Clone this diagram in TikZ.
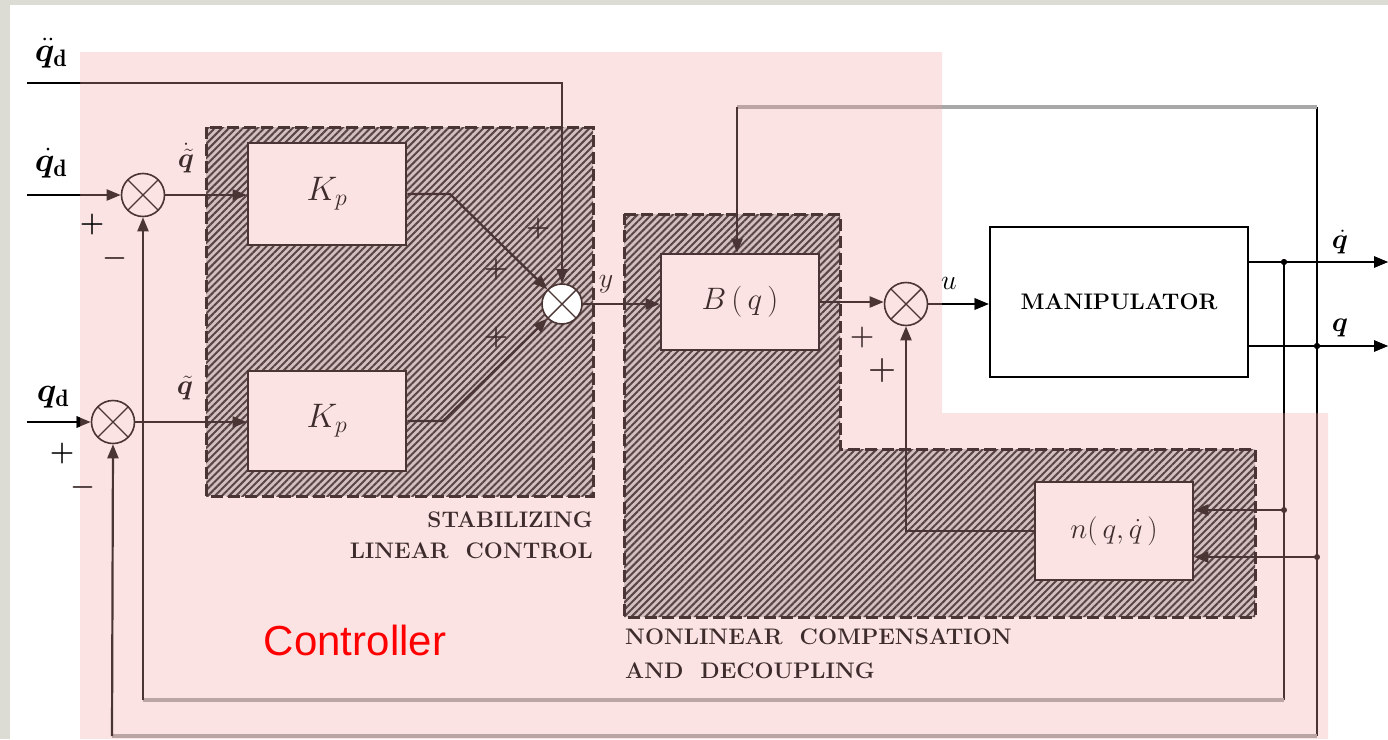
\RequirePackage{fix-cm}
\documentclass[tikz,border=0pt]{standalone}
\usepackage{fontspec}
\newfontfamily\arialfont{Liberation Sans}
\usepackage{bm}
\usetikzlibrary{arrows.meta,patterns.meta}
\definecolor{pinkbg}{HTML}{FBE3E3}
\definecolor{stone}{HTML}{DCDCD4}
\definecolor{hatchbg}{HTML}{D2C0C0}
\definecolor{hatchink}{HTML}{5A4444}
\definecolor{brownink}{HTML}{4A3434}
\definecolor{browntext}{HTML}{3E2C2C}
\definecolor{brownfade}{HTML}{BBA4A4}
\definecolor{greyfade}{HTML}{A8A8A8}
\colorlet{ink}{brownink}
\colorlet{inkfade}{brownfade}
\tikzset{
  ln/.style={draw=ink, line width=2.2pt},
  arr/.style={ln, -{Triangle[length=14pt,width=11pt]}},
  fadeln/.style={draw=inkfade, line width=4pt},
  blockbox/.style={draw=ink, line width=2.6pt, fill=pinkbg, minimum width=158pt, minimum height=100pt, inner sep=0pt},
  sumj/.style={circle, draw=ink, line width=1.6pt, fill=pinkbg, minimum size=43pt, inner sep=0pt,
    path picture={\draw[ink, line width=1.4pt] (path picture bounding box.north west) -- (path picture bounding box.south east)
      (path picture bounding box.north east) -- (path picture bounding box.south west);}},
  hatcharea/.style={fill=hatchbg, postaction={pattern={Lines[angle=45,distance=5pt,line width=2pt]}, pattern color=hatchink}},
  dashedborder/.style={draw=ink, line width=3pt, dash pattern=on 12pt off 5pt},
  lbl/.style={text=browntext, inner sep=0pt, font=\fontsize{28}{32}\selectfont},
  inlbl/.style={text=black, inner sep=0pt, font=\fontsize{34}{38}\selectfont},
  sgn/.style={text=browntext, inner sep=0pt, font=\fontsize{28}{30}\selectfont},
  capslbl/.style={text=browntext, inner sep=0pt, font=\fontsize{22.5}{26}\selectfont\bfseries},
  jdot/.style={circle, fill=ink, inner sep=0pt, minimum size=6pt},
}
\newcommand{\diagramcontent}{%
  % named bend points
  \coordinate (qddIn) at (27,83);
  \coordinate (qddBend) at (562,83);
  \coordinate (qdIn) at (27,195);
  \coordinate (qIn) at (27,422);
  \coordinate (k1Bend) at (450,194);
  \coordinate (k2Bend) at (443,421);
  \coordinate (qdOutEnd) at (1388,262);
  \coordinate (qOutEnd) at (1388,346);
  \coordinate (jqd) at (1284,262);
  \coordinate (jq) at (1317,346);
  \coordinate (qTop) at (1317,107);
  \coordinate (bqTop) at (737,107);
  \coordinate (jqdN) at (1284,510);
  \coordinate (jqN) at (1317,557);
  \coordinate (qdLow) at (1284,700);
  \coordinate (qdLeft) at (143,700);
  \coordinate (qLow) at (1317,736);
  \coordinate (qLeft) at (112,736);
  % blocks
  \node[sumj] (s1) at (143,195) {};
  \node[sumj] (s2) at (113,422) {};
  \node[sumj, fill=white, minimum size=40pt] (s3) at (562,304) {};
  \node[sumj] (s4) at (906,304) {};
  \node[blockbox, minimum height=102pt] (kp1) at (327,194) {};
  \node[blockbox] (kp2) at (327,421) {};
  \node[blockbox, minimum height=96pt] (bq) at (740,302) {};
  \node[blockbox, minimum height=98pt] (nb) at (1114,531) {};
  \node[blockbox, fill=white, minimum width=258pt, minimum height=150pt] (man) at (1119,302) {};
  % connectors
  \draw[arr] (qddIn) -- (qddBend) -- (s3.north);
  \draw[arr] (qdIn) -- (s1.west);
  \draw[arr] (qIn) -- (s2.west);
  \draw[arr] (s1.east) -- (s1.east -| kp1.west);
  \draw[arr] (s2.east) -- (s2.east -| kp2.west);
  \draw[arr] (kp1.east) -- (k1Bend) -- (s3.north west);
  \draw[arr] (kp2.east) -- (k2Bend) -- (s3.south west);
  \draw[arr] (s3.east) -- (s3.east -| bq.west);
  \draw[arr] (bq.east) -- (bq.east -| s4.west);
  \draw[arr] (s4.east) -- (s4.east -| man.west);
  \draw[arr] (man.east |- qdOutEnd) -- (qdOutEnd);
  \draw[arr] (man.east |- qOutEnd) -- (qOutEnd);
  \draw[ln] (jq) -- (qTop);
  \draw[fadeln] (qTop) -- (bqTop);
  \draw[arr] (bqTop) -- (bqTop |- bq.north);
  \draw[ln] (jq) -- (qLow);
  \draw[fadeln] (qLow) -- (qLeft);
  \draw[arr] (qLeft) -- (s2.south);
  \draw[ln] (jqd) -- (qdLow);
  \draw[fadeln] (qdLow) -- (qdLeft);
  \draw[arr] (qdLeft) -- (s1.south);
  \draw[arr] (jqdN) -- (jqdN -| nb.east);
  \draw[arr] (jqN) -- (jqN -| nb.east);
  \draw[arr] (nb.west) -- (nb.west -| s4.south) -- (s4.south);
  \node[jdot] (d1) at (jqd) {};
  \node[jdot] (d2) at (jq) {};
  \node[jdot] (d3) at (jqdN) {};
  \node[jdot] (d4) at (jqN) {};
}
\begin{document}
\begin{tikzpicture}[x=1pt,y=-1pt]
  \useasboundingbox (0,0) rectangle (1388,739);
  % background
  \fill[white] (0,0) rectangle (1388,739);
  \fill[stone] (0,0) rectangle (10,739);
  \fill[stone] (0,0) rectangle (1388,5);
  \fill[pinkbg] (80,52) -- (942,52) -- (942,413) -- (1328,413) -- (1328,739) -- (80,739) -- cycle;
  % hatched regions
  \path[hatcharea] (206,127) rectangle (593,496);
  \draw[dashedborder] (206,127) rectangle (593,496);
  \path[hatcharea] (624,214) -- (840,214) -- (840,449) -- (1255,449) -- (1255,617) -- (624,617) -- cycle;
  \draw[dashedborder] (624,214) -- (840,214) -- (840,449) -- (1255,449) -- (1255,617) -- (624,617) -- cycle;
  % pass 1: all lines and blocks in brown ink
  \diagramcontent
  % pass 2: the white part redrawn in black
  \begin{scope}
    \clip (0,0) -- (1388,0) -- (1388,739) -- (1328,739) -- (1328,413) -- (942,413) -- (942,52) -- (80,52) -- (80,739) -- (0,739) -- cycle;
    \colorlet{ink}{black}
    \colorlet{inkfade}{greyfade}
    \diagramcontent
  \end{scope}
  % texts (drawn once)
  \node[lbl, font=\fontsize{34}{36}\selectfont] (tkp1) at (kp1.center) {$K_p$};
  \node[lbl, font=\fontsize{34}{36}\selectfont] (tkp2) at (kp2.center) {$K_p$};
  \node[lbl, font=\fontsize{31}{34}\selectfont] (tbq) at (bq.center) {$B\,(\,q\,)$};
  \node[lbl, font=\fontsize{29}{32}\selectfont] (tnb) at (nb.center) {$n(\,q,\dot q\,)$};
  \node[capslbl, text=black] (tman) at (man.center) {MANIPULATOR};
  \node[inlbl] (lqdd) at (51,53) {$\bm{\ddot q}_{\mathbf d}$};
  \node[inlbl] (lqd) at (51,163) {$\bm{\dot q}_{\mathbf d}$};
  \node[inlbl] (lq) at (53,397) {$\bm{q}_{\mathbf d}$};
  \node[lbl] (lqtd) at (186,158) {$\bm{\dot{\tilde q}}$};
  \node[lbl] (lqt) at (185,388) {$\bm{\tilde q}$};
  \node[lbl] (ly) at (606,284) {$y$};
  \node[lbl, text=black] (lu) at (949,283) {$u$};
  \node[lbl, text=black] (lqdo) at (1340,242) {$\bm{\dot q}$};
  \node[lbl, text=black] (lqo) at (1340,328) {$\bm{q}$};
  \node[sgn, text=black] (p1) at (92,224) {$\bm{+}$};
  \node[sgn] (m1) at (115,258) {$\bm{-}$};
  \node[sgn, text=black] (p2) at (62,453) {$\bm{+}$};
  \node[sgn] (m2) at (83,487) {$\bm{-}$};
  \node[sgn] (p3) at (538,228) {$\bm{+}$};
  \node[sgn] (p4) at (496,269) {$\bm{+}$};
  \node[sgn] (p5) at (496,337) {$\bm{+}$};
  \node[sgn] (p6) at (862,337) {$\bm{+}$};
  \node[sgn, font=\fontsize{32}{34}\selectfont] (p7) at (882,370) {$\bm{+}$};
  \node[capslbl, anchor=east] (st1) at (593,520) {STABILIZING};
  \node[capslbl, anchor=east] (st2) at (593,551) {LINEAR\ \ CONTROL};
  \node[capslbl, anchor=west] (nl1) at (625,637) {NONLINEAR\ \ COMPENSATION};
  \node[capslbl, anchor=west] (nl2) at (625,671) {AND\ \ DECOUPLING};
  \node[text=red, inner sep=0pt, font=\arialfont\fontsize{42}{46}\selectfont] (ctl) at (355,640) {Controller};
\end{tikzpicture}
\end{document}
